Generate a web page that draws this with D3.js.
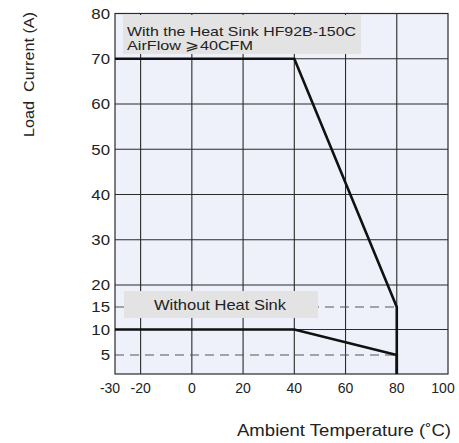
<!DOCTYPE html>
<html>
<head>
<meta charset="utf-8">
<script src="https://cdn.jsdelivr.net/npm/d3@7/dist/d3.min.js"></script>
<style>
  body { margin: 0; background: #fff; }
  svg text { font-family: "Liberation Sans", Arial, sans-serif; fill: #222; }
</style>
</head>
<body>
<svg id="chart" width="459" height="443"></svg>
<script>
// data
var withSinkTemp = [-30, 40, 80, 80];
var withSinkCurrent = [70, 70, 15, 0];
var noSinkTemp = [-30, 40, 80, 80];
var noSinkCurrent = [10, 10, 5, 0];

var xTicks = [-30, -20, 0, 20, 40, 60, 80, 100];
var xGrid = [-20, 0, 20, 40, 60, 80];
var yTicks = [80, 70, 60, 50, 40, 30, 20, 15, 10, 5];
var yGrid = [10, 20, 30, 40, 50, 60, 70];
var yDashed = [15, 5];

var svg = d3.select("#chart"),
    m = {left: 115, right: 448, top: 13.5, bottom: 374};

var x = d3.scaleLinear().domain([-30, 100]).range([m.left, m.right]);
// the printed axis is not quite even at the bottom, follow it
var y = d3.scaleLinear()
    .domain([0, 5, 10, 15, 20, 80])
    .range([m.bottom, 355, 329.5, 307, 285, m.top]);

// widen text to the measured length (original type is a bit stretched)
function stretch(sel, k) {
    sel.each(function () {
        var w = this.getComputedTextLength();
        d3.select(this).attr("textLength", w * k).attr("lengthAdjust", "spacingAndGlyphs");
    });
}

// plot background
svg.append("rect")
    .attr("x", m.left).attr("y", m.top)
    .attr("width", m.right - m.left).attr("height", m.bottom - m.top)
    .attr("fill", "#eef1f9");

// grid
svg.append("g").selectAll("line")
    .data(xGrid).enter().append("line")
    .attr("x1", function (d) { return x(d); })
    .attr("x2", function (d) { return x(d); })
    .attr("y1", m.top).attr("y2", m.bottom)
    .attr("stroke", "#2a2a2a").attr("stroke-width", 1.1);

svg.append("g").selectAll("line")
    .data(yGrid).enter().append("line")
    .attr("x1", m.left).attr("x2", m.right)
    .attr("y1", function (d) { return y(d); })
    .attr("y2", function (d) { return y(d); })
    .attr("stroke", "#2a2a2a").attr("stroke-width", 1.1);

// dashed reference lines
svg.append("g").selectAll("line")
    .data(yDashed).enter().append("line")
    .attr("x1", m.left)
    .attr("x2", x(80))
    .attr("y1", function (d) { return y(d); })
    .attr("y2", function (d) { return y(d); })
    .attr("stroke", "#555").attr("stroke-width", 1.2)
    .attr("stroke-dasharray", "9,6");

// border
svg.append("rect")
    .attr("x", m.left).attr("y", m.top)
    .attr("width", m.right - m.left).attr("height", m.bottom - m.top)
    .attr("fill", "none").attr("stroke", "#2a2a2a").attr("stroke-width", 1.2);

// curves
var line = d3.line()
    .x(function (d) { return x(d[0]); })
    .y(function (d) { return y(d[1]); });

[d3.zip(withSinkTemp, withSinkCurrent), d3.zip(noSinkTemp, noSinkCurrent)].forEach(function (pts) {
    svg.append("path")
        .attr("d", line(pts))
        .attr("fill", "none")
        .attr("stroke", "#111")
        .attr("stroke-width", 2.6)
        .attr("stroke-linejoin", "miter");
});

// legend labels
var box1 = svg.append("g");
box1.append("rect")
    .attr("x", 123).attr("y", 15).attr("width", 238).attr("height", 39)
    .attr("fill", "#e3e3e3");
box1.append("text").attr("x", 127).attr("y", 35.5)
    .attr("font-size", 13.5)
    .attr("textLength", 229).attr("lengthAdjust", "spacingAndGlyphs")
    .text("With the Heat Sink HF92B-150C");
box1.append("text").attr("x", 127).attr("y", 50)
    .attr("font-size", 13.5)
    .attr("textLength", 126).attr("lengthAdjust", "spacingAndGlyphs")
    .text("AirFlow \u2A7E40CFM");

var box2 = svg.append("g");
box2.append("rect")
    .attr("x", 124).attr("y", 291).attr("width", 194).attr("height", 27)
    .attr("fill", "#e3e3e3");
box2.append("text").attr("x", 154).attr("y", 310)
    .attr("font-size", 14.5)
    .attr("textLength", 132).attr("lengthAdjust", "spacingAndGlyphs")
    .text("Without Heat Sink");

// tick labels
svg.append("g").selectAll("text")
    .data(yTicks).enter().append("text")
    .attr("x", m.left - 5)
    .attr("y", function (d) { return y(d); })
    .attr("dy", "0.36em")
    .attr("text-anchor", "end")
    .attr("font-size", 15)
    .text(function (d) { return d; })
    .call(stretch, 1.12);

svg.append("g").selectAll("text")
    .data(xTicks).enter().append("text")
    .attr("x", function (d) { return (d === -30 || d === 100) ? x(d) - 5 : x(d); })
    .attr("y", 392.5)
    .attr("text-anchor", "middle")
    .attr("font-size", 14)
    .text(function (d) { return d; });

// axis titles
svg.append("text")
    .attr("x", 237).attr("y", 436)
    .attr("font-size", 17)
    .attr("textLength", 214).attr("lengthAdjust", "spacingAndGlyphs")
    .text("Ambient Temperature (\u02DAC)");

svg.append("text")
    .attr("transform", "translate(33.5,137) rotate(-90)")
    .attr("font-size", 15)
    .attr("textLength", 125).attr("lengthAdjust", "spacingAndGlyphs")
    .style("white-space", "pre")
    .text("Load  Current (A)");
</script>
</body>
</html>
